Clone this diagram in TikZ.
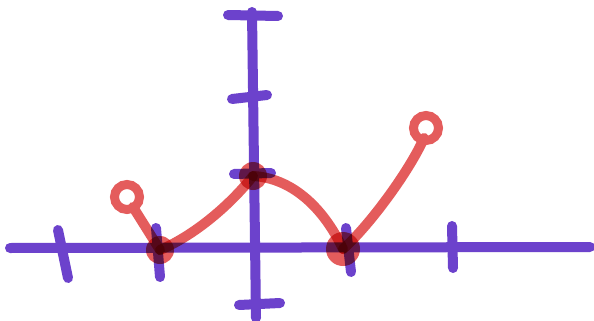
\documentclass[tikz,border=0pt]{standalone}
\definecolor{axpurple}{RGB}{108,66,204}
\definecolor{curvered}{RGB}{228,92,92}
\begin{document}
\begin{tikzpicture}[x=1pt,y=-1pt,
  axis/.style={draw=axpurple,line width=10pt,line cap=round},
  curve/.style={draw=curvered,line width=10pt,line cap=round,line join=round,blend mode=multiply},
  dot/.style={fill=curvered,blend mode=multiply},
  ring/.style={draw=curvered,line width=9pt}]
\useasboundingbox[fill=white] (0,0) rectangle (594,321);
% named points
\coordinate (L) at (10,248);
\coordinate (R) at (590,247);
\coordinate (T) at (252,12);
\coordinate (B) at (256,318);
\coordinate (P1) at (127,197);
\coordinate (P2) at (160,250);
\coordinate (P3) at (253,176);
\coordinate (P4) at (343,249);
\coordinate (P5) at (426,128);
% axes
\draw[axis] (L) -- (R);
\draw[axis] (T) -- (B);
% x ticks
\draw[axis] (58,230) -- (68,278);
\draw[axis] (156,228) -- (160,277);
\draw[axis] (346,228) -- (351,272);
\draw[axis] (452,226) -- (453,268);
% y ticks
\draw[axis] (228,15) -- (278,16);
\draw[axis] (232,99) -- (267,95);
\draw[axis] (234,174) -- (271,173);
\draw[axis] (239,305) -- (280,303);
% curve
\draw[curve] (133,207) -- (P2);
\draw[curve] (P2) .. controls (195,235) and (230,205) .. (P3);
\draw[curve] (P3) .. controls (290,178) and (322,205) .. (P4);
\draw[curve] (P4) .. controls (370,225) and (410,170) .. (424,138);
% filled points
\fill[dot] (P2) circle[radius=14];
\fill[dot] (P3) circle[radius=14];
\fill[dot] (P4) circle[radius=17];
% open points
\draw[ring] (P1) circle[radius=12.5];
\draw[ring] (P5) circle[radius=12.5];
\end{tikzpicture}
\end{document}
